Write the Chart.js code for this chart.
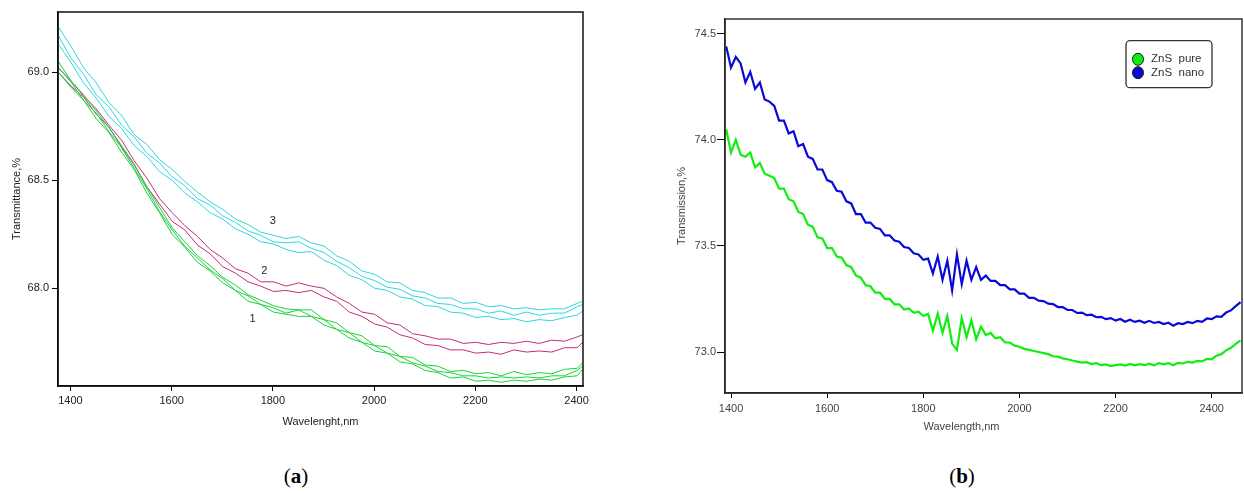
<!DOCTYPE html>
<html>
<head>
<meta charset="utf-8">
<title>Transmittance spectra</title>
<script src="https://cdn.jsdelivr.net/npm/chart.js@4.4.0/dist/chart.umd.min.js"></script>
<style>
  body { margin: 0; background: #fff; width: 1244px; height: 493px; position: relative; overflow: hidden; }
  .wrap { position: absolute; top: 0; height: 440px; }
  #wrapA { left: 0; width: 610px; }
  #wrapB { left: 640px; width: 604px; }
  .cap { position: absolute; top: 466px; font-family: "Liberation Serif", serif; font-size: 21px; line-height: 1; color: #000; transform: translateX(-50%); }
</style>
</head>
<body>
<div class="wrap" id="wrapA"><canvas id="chartA"></canvas></div>
<div class="wrap" id="wrapB"><canvas id="chartB"></canvas></div>
<div class="cap" style="left:296px">(<b>a</b>)</div>
<div class="cap" style="left:962px">(<b>b</b>)</div>

<script>
// --- Panel (a): wavelengths (nm) and transmittance (%) ---
const waveA = [1376, 1401, 1426, 1451, 1476, 1501, 1526, 1551, 1576, 1601,
  1626, 1651, 1676, 1701, 1726, 1751, 1776, 1801, 1826, 1851,
  1876, 1901, 1926, 1951, 1976, 2001, 2026, 2051, 2076, 2101,
  2126, 2151, 2176, 2201, 2226, 2251, 2276, 2301, 2326, 2351,
  2376, 2401, 2412];

// curve 1 (green, three scans)
const green1A = [69.05, 68.96, 68.895, 68.82, 68.745, 68.66, 68.575, 68.47, 68.375, 68.28,
  68.215, 68.15, 68.105, 68.05, 68.015, 67.97, 67.945, 67.92, 67.905, 67.90,
  67.90, 67.855, 67.84, 67.795, 67.78, 67.735, 67.73, 67.685, 67.68, 67.645,
  67.64, 67.615, 67.62, 67.605, 67.61, 67.595, 67.615, 67.60, 67.61, 67.605,
  67.625, 67.63, 67.655];
const green2A = [69.02, 68.955, 68.87, 68.81, 68.725, 68.65, 68.555, 68.46, 68.355, 68.27,
  68.195, 68.14, 68.085, 68.045, 67.99, 67.965, 67.925, 67.91, 67.885, 67.90,
  67.87, 67.855, 67.81, 67.795, 67.75, 67.735, 67.70, 67.685, 67.655, 67.64,
  67.615, 67.61, 67.595, 67.595, 67.585, 67.59, 67.585, 67.59, 67.585, 67.595,
  67.595, 67.62, 67.64];
const green3A = [69.00, 68.93, 68.87, 68.785, 68.72, 68.63, 68.55, 68.44, 68.35, 68.25,
  68.19, 68.12, 68.08, 68.025, 67.99, 67.94, 67.925, 67.89, 67.88, 67.87,
  67.87, 67.83, 67.81, 67.77, 67.75, 67.71, 67.70, 67.66, 67.65, 67.62,
  67.61, 67.585, 67.59, 67.57, 67.575, 67.565, 67.575, 67.57, 67.58, 67.575,
  67.59, 67.595, 67.625];

// curve 2 (magenta, two scans)
const magenta1A = [69.02, 68.96, 68.89, 68.83, 68.755, 68.685, 68.59, 68.51, 68.415, 68.35,
  68.29, 68.24, 68.18, 68.14, 68.09, 68.07, 68.03, 68.03, 68.01, 68.025,
  68.01, 68.00, 67.96, 67.93, 67.89, 67.88, 67.84, 67.83, 67.79, 67.78,
  67.765, 67.765, 67.745, 67.75, 67.74, 67.75, 67.745, 67.755, 67.745, 67.76,
  67.755, 67.775, 67.785];
const magenta2A = [69.00, 68.935, 68.885, 68.805, 68.745, 68.655, 68.57, 68.47, 68.39, 68.31,
  68.27, 68.20, 68.16, 68.10, 68.07, 68.03, 68.01, 67.985, 67.99, 67.98,
  67.99, 67.96, 67.94, 67.89, 67.87, 67.835, 67.82, 67.785, 67.77, 67.74,
  67.735, 67.715, 67.715, 67.70, 67.705, 67.695, 67.715, 67.705, 67.71, 67.705,
  67.725, 67.725, 67.75];

// curve 3 (cyan, three scans)
const cyan1A = [69.21, 69.12, 69.02, 68.95, 68.86, 68.80, 68.71, 68.665, 68.595, 68.55,
  68.495, 68.445, 68.40, 68.365, 68.32, 68.295, 68.26, 68.245, 68.23, 68.24,
  68.21, 68.195, 68.15, 68.125, 68.08, 68.065, 68.03, 68.025, 67.99, 67.98,
  67.955, 67.955, 67.93, 67.935, 67.915, 67.92, 67.905, 67.91, 67.90, 67.905,
  67.905, 67.93, 67.94];
const cyan2A = [69.17, 69.065, 68.99, 68.895, 68.84, 68.755, 68.70, 68.625, 68.58, 68.515,
  68.475, 68.415, 68.385, 68.335, 68.305, 68.265, 68.245, 68.215, 68.21, 68.215,
  68.185, 68.165, 68.125, 68.095, 68.055, 68.035, 68.005, 67.995, 67.965, 67.955,
  67.93, 67.925, 67.905, 67.905, 67.885, 67.895, 67.875, 67.89, 67.875, 67.885,
  67.885, 67.915, 67.925];
const cyan3A = [69.13, 69.045, 68.95, 68.88, 68.795, 68.74, 68.66, 68.61, 68.54, 68.50,
  68.44, 68.40, 68.35, 68.32, 68.275, 68.25, 68.215, 68.205, 68.18, 68.165,
  68.17, 68.13, 68.105, 68.06, 68.04, 68.00, 67.99, 67.96, 67.95, 67.92,
  67.915, 67.89, 67.885, 67.865, 67.87, 67.855, 67.86, 67.845, 67.855, 67.85,
  67.865, 67.875, 67.895];

// curve numbers written next to the curves
const curveLabelsA = [
  { text: '3', x: 1800, y: 68.31 },
  { text: '2', x: 1783, y: 68.08 },
  { text: '1', x: 1760, y: 67.857 }
];

const xTicksA = [1400, 1600, 1800, 2000, 2200, 2400];
const yTicksA = [68.0, 68.5, 69.0];

// --- Panel (b): ZnS pure vs ZnS nano ---
const waveB = [1390, 1400, 1410, 1420, 1430, 1440, 1450, 1460, 1470, 1480,
  1490, 1500, 1510, 1520, 1530, 1540, 1550, 1560, 1570, 1580,
  1590, 1600, 1610, 1620, 1630, 1640, 1650, 1660, 1670, 1680,
  1690, 1700, 1710, 1720, 1730, 1740, 1750, 1760, 1770, 1780,
  1790, 1800, 1810, 1820, 1830, 1840, 1850, 1860, 1870, 1880,
  1890, 1900, 1910, 1920, 1930, 1940, 1950, 1960, 1970, 1980,
  1990, 2000, 2010, 2020, 2030, 2040, 2050, 2060, 2070, 2080,
  2090, 2100, 2110, 2120, 2130, 2140, 2150, 2160, 2170, 2180,
  2190, 2200, 2210, 2220, 2230, 2240, 2250, 2260, 2270, 2280,
  2290, 2300, 2310, 2320, 2330, 2340, 2350, 2360, 2370, 2380,
  2390, 2400, 2410, 2420, 2430, 2440, 2450, 2460];

const purePctB = [74.05, 73.94, 74.00, 73.93, 73.92, 73.94, 73.87, 73.89, 73.84, 73.83,
  73.82, 73.77, 73.77, 73.72, 73.71, 73.66, 73.65, 73.60, 73.59, 73.54,
  73.535, 73.49, 73.49, 73.45, 73.445, 73.41, 73.40, 73.36, 73.35, 73.315,
  73.31, 73.28, 73.28, 73.25, 73.25, 73.225, 73.225, 73.20, 73.205, 73.185,
  73.19, 73.17, 73.18, 73.10, 73.18, 73.09, 73.17, 73.04, 73.01, 73.16,
  73.07, 73.15, 73.06, 73.12, 73.08, 73.09, 73.065, 73.07, 73.045, 73.045,
  73.03, 73.025, 73.015, 73.01, 73.005, 73.0, 72.995, 72.99, 72.98, 72.978,
  72.97, 72.966, 72.96, 72.955, 72.95, 72.952, 72.943, 72.948, 72.938, 72.942,
  72.934, 72.938, 72.942, 72.936, 72.944, 72.937, 72.943, 72.938, 72.945, 72.937,
  72.948, 72.942, 72.948, 72.938, 72.949, 72.946, 72.954, 72.95, 72.958, 72.956,
  72.968, 72.966, 72.983, 72.99, 73.008, 73.02, 73.038, 73.055];

const nanoPctB = [74.44, 74.34, 74.39, 74.36, 74.27, 74.32, 74.24, 74.27, 74.19, 74.18,
  74.16, 74.09, 74.09, 74.03, 74.04, 73.97, 73.98, 73.92, 73.91, 73.86,
  73.86, 73.81, 73.80, 73.76, 73.755, 73.71, 73.70, 73.65, 73.65, 73.61,
  73.61, 73.585, 73.58, 73.55, 73.55, 73.525, 73.52, 73.495, 73.49, 73.465,
  73.46, 73.435, 73.44, 73.37, 73.45, 73.34, 73.43, 73.29, 73.46, 73.32,
  73.43, 73.34, 73.40, 73.34, 73.36, 73.335, 73.335, 73.315, 73.315, 73.295,
  73.295, 73.275, 73.275, 73.255, 73.255, 73.242, 73.24, 73.228, 73.226, 73.212,
  73.212, 73.198, 73.198, 73.184, 73.186, 73.174, 73.176, 73.164, 73.166, 73.155,
  73.16, 73.148, 73.156, 73.143, 73.152, 73.142, 73.148, 73.138, 73.147, 73.137,
  73.142, 73.132, 73.138, 73.124, 73.136, 73.132, 73.142, 73.136, 73.147, 73.142,
  73.158, 73.155, 73.168, 73.166, 73.186, 73.196, 73.216, 73.235];

const xTicksB = [1400, 1600, 1800, 2000, 2200, 2400];
const yTicksB = [73.0, 73.5, 74.0, 74.5];

// --- helpers ---
const SANS = '"Liberation Sans", Arial, sans-serif';

function lineSet(label, xs, ys, color, width) {
  return {
    label: label,
    data: xs.map((x, i) => ({ x: x, y: ys[i] })),
    borderColor: color,
    backgroundColor: color,
    borderWidth: width,
    pointRadius: 0,
    tension: 0,
    fill: false
  };
}

// box around the plot area
const framePlugin = {
  id: 'frame',
  afterDraw(chart, args, opts) {
    const { ctx, chartArea: a } = chart;
    ctx.save();
    ctx.strokeStyle = opts.color;
    ctx.lineWidth = opts.width;
    ctx.strokeRect(a.left, a.top, a.right - a.left, a.bottom - a.top);
    ctx.restore();
  }
};

// the "1", "2", "3" marks of panel (a)
const curveLabelPlugin = {
  id: 'curveLabels',
  afterDatasetsDraw(chart, args, opts) {
    const { ctx, scales } = chart;
    ctx.save();
    ctx.font = '11px ' + SANS;
    ctx.fillStyle = '#222';
    ctx.textAlign = 'center';
    ctx.textBaseline = 'middle';
    opts.items.forEach(l => {
      ctx.fillText(l.text, scales.x.getPixelForValue(l.x), scales.y.getPixelForValue(l.y));
    });
    ctx.restore();
  }
};

// x axis title drawn a little left of the plot centre (panel b)
const shiftedTitlePlugin = {
  id: 'shiftedTitle',
  afterDraw(chart, args, o) {
    const { ctx, chartArea: a } = chart;
    ctx.save();
    ctx.font = '11px ' + SANS;
    ctx.fillStyle = o.color;
    ctx.textAlign = 'center';
    ctx.textBaseline = 'middle';
    ctx.fillText(o.text, (a.left + a.right) / 2 + o.shift, a.bottom + o.below);
    ctx.restore();
  }
};

// boxed legend with round markers, panel (b)
const legendBoxPlugin = {
  id: 'legendBox',
  afterDraw(chart, args, o) {
    const { ctx, chartArea } = chart;
    const x = chartArea.right - o.right - o.width;
    const y = chartArea.top + o.top;
    ctx.save();
    ctx.beginPath();
    ctx.roundRect(x, y, o.width, o.height, 4);
    ctx.fillStyle = '#fff';
    ctx.fill();
    ctx.strokeStyle = '#333';
    ctx.lineWidth = 1.3;
    ctx.stroke();
    ctx.font = '11.5px ' + SANS;
    ctx.textBaseline = 'middle';
    chart.data.datasets.forEach((ds, i) => {
      const cy = y + o.firstRow + i * o.rowGap;
      ctx.beginPath();
      ctx.ellipse(x + 12, cy, 5.5, 6, 0, 0, Math.PI * 2);
      ctx.fillStyle = ds.borderColor;
      ctx.fill();
      ctx.strokeStyle = '#1a1a1a';
      ctx.lineWidth = 1;
      ctx.stroke();
      ctx.fillStyle = '#333';
      ctx.fillText(ds.label, x + 25, cy);
    });
    ctx.restore();
  }
};

function xAxis(min, max, ticks, o) {
  return {
    type: 'linear', min: min, max: max,
    afterBuildTicks: s => { s.ticks = ticks.map(v => ({ value: v })); },
    afterFit: s => { s.height = o.height; },
    grid: { drawOnChartArea: false, drawTicks: true, tickLength: o.tickLength, color: '#000', tickColor: '#000', tickWidth: 1 },
    border: { color: '#000', width: 1.5 },
    ticks: { autoSkip: false, maxRotation: 0, padding: o.padding, color: o.color,
      font: { family: SANS, size: 11 }, callback: v => String(v) },
    title: { display: !!o.title, text: o.title, color: o.color, font: { family: SANS, size: 11 },
      padding: { top: 0, bottom: o.titlePad } }
  };
}

function yAxis(min, max, ticks, o) {
  return {
    type: 'linear', min: min, max: max,
    afterBuildTicks: s => { s.ticks = ticks.map(v => ({ value: v })); },
    afterFit: s => { s.width = o.width; },
    grid: { drawOnChartArea: false, drawTicks: true, tickLength: o.tickLength, color: '#000', tickColor: '#000', tickWidth: 1 },
    border: { color: '#000', width: 1.5 },
    ticks: { autoSkip: false, padding: o.padding, color: o.color,
      font: { family: SANS, size: 11 }, callback: v => v.toFixed(1) },
    title: { display: true, text: o.title, color: o.color, font: { family: SANS, size: 11 },
      padding: { top: o.titlePad, bottom: 0 } }
  };
}

// --- Panel (a) ---
const GREEN_A = '#19d23c';
const MAGENTA_A = '#c42a7e';
const CYAN_A = '#2fd6e0';

new Chart(document.getElementById('chartA'), {
  type: 'line',
  data: {
    datasets: [
      lineSet('1', waveA, green1A, GREEN_A, 1),
      lineSet('1', waveA, green2A, GREEN_A, 1),
      lineSet('1', waveA, green3A, GREEN_A, 1),
      lineSet('2', waveA, magenta1A, MAGENTA_A, 1),
      lineSet('2', waveA, magenta2A, MAGENTA_A, 1),
      lineSet('3', waveA, cyan1A, CYAN_A, 1),
      lineSet('3', waveA, cyan2A, CYAN_A, 1),
      lineSet('3', waveA, cyan3A, CYAN_A, 1)
    ]
  },
  options: {
    responsive: true,
    maintainAspectRatio: false,
    animation: false,
    events: [],
    layout: { padding: { left: 0, top: 12, right: 27, bottom: 0 } },
    plugins: {
      legend: { display: false },
      tooltip: { enabled: false },
      frame: { color: '#111', width: 1.5 },
      curveLabels: { items: curveLabelsA }
    },
    scales: {
      x: xAxis(1375.5, 2412.7, xTicksA, { height: 54, tickLength: 5, padding: 3, color: '#222', title: 'Wavelenght,nm', titlePad: 11 }),
      y: yAxis(67.548, 69.278, yTicksA, { width: 58, tickLength: 6, padding: 3, color: '#222', title: 'Transmittance,%', titlePad: 10 })
    }
  },
  plugins: [framePlugin, curveLabelPlugin]
});

// --- Panel (b) ---
new Chart(document.getElementById('chartB'), {
  type: 'line',
  data: {
    datasets: [
      lineSet('ZnS  pure', waveB, purePctB, '#10ee10', 2.2),
      lineSet('ZnS  nano', waveB, nanoPctB, '#0a0ad8', 2.2)
    ]
  },
  options: {
    responsive: true,
    maintainAspectRatio: false,
    animation: false,
    events: [],
    layout: { padding: { left: 0, top: 19, right: 2, bottom: 0 } },
    plugins: {
      legend: { display: false },
      tooltip: { enabled: false },
      frame: { color: '#333', width: 1.5 },
      legendBox: { right: 30, top: 21.7, width: 86, height: 47, firstRow: 18.6, rowGap: 13.4 },
      shiftedTitle: { text: 'Wavelength,nm', color: '#444', shift: -22, below: 34 }
    },
    scales: {
      x: xAxis(1387.5, 2463, xTicksB, { height: 47, tickLength: 5, padding: 4, color: '#444', title: '', titlePad: 6 }),
      y: yAxis(72.807, 74.569, yTicksB, { width: 85, tickLength: 8, padding: 1, color: '#444', title: 'Transmission,%', titlePad: 35 })
    }
  },
  plugins: [framePlugin, legendBoxPlugin, shiftedTitlePlugin]
});
</script>
</body>
</html>
